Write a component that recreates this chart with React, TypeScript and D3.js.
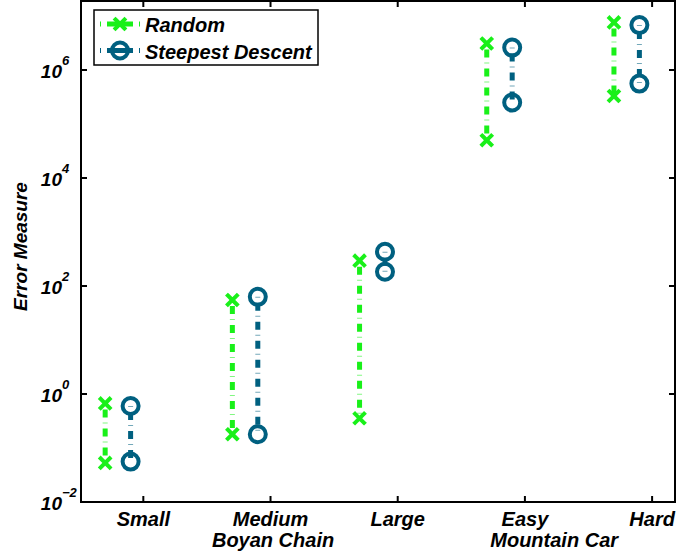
import React from 'react';
import * as d3 from 'd3';

// categories along the x axis
const categories = ['Small', 'Medium', 'Large', 'Easy', 'Hard'];
const groupNames = ['Boyan Chain', 'Mountain Car'];
const groupCenters = [2.02, 4.23];

// error ranges (high / low) for each method
const randomHigh = [0.67, 55, 295, 3.1e6, 7.6e6];
const randomLow = [0.053, 0.18, 0.355, 5.0e4, 3.3e5];
const steepHigh = [0.6, 63, 430, 2.6e6, 6.8e6];
const steepLow = [0.056, 0.18, 184, 2.5e5, 5.6e5];

const yTickExps = [-2, 0, 2, 4, 6];
const seriesNames = ['Random', 'Steepest Descent'];

const W = 678, H = 554;
const left = 81, right = 675, top = 1, bottom = 502;
const green = '#19f019';
const blue = '#006080';
const font = '"Liberation Sans", Arial, sans-serif';

const xScale = d3.scaleLinear().domain([0.51, 5.18]).range([left, right]);
const yScale = d3.scaleLog().domain([1e-2, Math.pow(10, 7.278)]).range([bottom, top]);

const Segment = ({ x, y1, y2, color }: { x: number; y1: number; y2: number; color: string }) => {
  const p = d3.line()([[x, y1], [x, y2]]) as string;
  return (
    <g>
      <path d={p} stroke={color} strokeWidth={5} strokeDasharray="0 6 8 5" fill="none" />
      <path d={p} stroke={color} strokeOpacity={0.55} strokeWidth={5} strokeDasharray="1 18" fill="none" />
    </g>
  );
};

const Cross = ({ x, y, color }: { x: number; y: number; color: string }) => (
  <path d={`M${x - 4.5},${y - 4.5}L${x + 4.5},${y + 4.5}M${x - 4.5},${y + 4.5}L${x + 4.5},${y - 4.5}`}
    stroke={color} strokeWidth={4} strokeLinecap="square" fill="none" />
);

const Ring = ({ x, y, color }: { x: number; y: number; color: string }) => (
  <circle cx={x} cy={y} r={8} stroke={color} strokeWidth={4} fill="none" />
);

export default function App() {
  const offsets = [-0.3, -0.1];
  const series = [
    { hi: randomHigh, lo: randomLow, color: green, marker: 'x' },
    { hi: steepHigh, lo: steepLow, color: blue, marker: 'o' },
  ];
  const tickLen = 6;

  return (
    <svg width={W} height={H} style={{ position: 'absolute', left: 0, top: 0, background: '#fff' }}
      fontFamily={font}>
      <rect width={W} height={H} fill="#fff" />

      {/* data */}
      {series.map((s, si) => categories.map((c, i) => {
        const x = xScale(i + 1 + offsets[si]);
        const y1 = yScale(s.hi[i]);
        const y2 = yScale(s.lo[i]);
        return (
          <g key={`${si}-${c}`}>
            <Segment x={x} y1={y1} y2={y2} color={s.color} />
            {s.marker === 'x'
              ? [<Cross key="a" x={x} y={y1} color={s.color} />, <Cross key="b" x={x} y={y2} color={s.color} />]
              : [<Ring key="a" x={x} y={y1} color={s.color} />, <Ring key="b" x={x} y={y2} color={s.color} />]}
          </g>
        );
      }))}

      {/* frame */}
      <rect x={left} y={top} width={right - left} height={bottom - top} fill="none" stroke="#000" strokeWidth={2} />

      {/* x ticks */}
      {categories.map((c, i) => {
        const x = xScale(i + 1);
        return (
          <g key={c}>
            <line x1={x} x2={x} y1={bottom} y2={bottom - tickLen} stroke="#000" strokeWidth={2} />
            <line x1={x} x2={x} y1={top} y2={top + tickLen} stroke="#000" strokeWidth={2} />
            <text x={x} y={526} textAnchor="middle" fontSize={20} fontWeight="bold" fontStyle="italic">{c}</text>
          </g>
        );
      })}
      {groupNames.map((g, i) => (
        <text key={g} x={xScale(groupCenters[i])} y={547} textAnchor="middle" fontSize={20}
          fontWeight="bold" fontStyle="italic">{g}</text>
      ))}

      {/* y ticks */}
      {yTickExps.map((e) => {
        const y = yScale(Math.pow(10, e));
        return (
          <g key={e}>
            <line x1={left} x2={left + tickLen} y1={y} y2={y} stroke="#000" strokeWidth={2} />
            <line x1={right} x2={right - tickLen} y1={y} y2={y} stroke="#000" strokeWidth={2} />
            <text x={62} y={y + 8} textAnchor="end" fontSize={19} fontWeight="bold" fontStyle="italic">10</text>
            <text x={62} y={y - 5} textAnchor="start" fontSize={13} fontWeight="bold" fontStyle="italic">
              {e < 0 ? `\u2212${-e}` : `${e}`}
            </text>
          </g>
        );
      })}

      <text transform={`translate(27,${(top + bottom) / 2 - 5}) rotate(-90)`} textAnchor="middle"
        fontSize={19} fontWeight="bold" fontStyle="italic">Error Measure</text>

      {/* legend */}
      <g>
        <rect x={94} y={10} width={224} height={55} fill="#fff" stroke="#000" strokeWidth={1.5} />
        {series.map((s, si) => {
          const y = 24 + si * 26.5;
          return (
            <g key={si}>
              <path d={`M100,${y}H140`} stroke={s.color} strokeWidth={5} strokeDasharray="1 6 26 6" fill="none" />
              {s.marker === 'x' ? <Cross x={120} y={y} color={s.color} /> : <Ring x={120} y={y} color={s.color} />}
              <text x={145} y={y + 8} fontSize={20} fontWeight="bold" fontStyle="italic">{seriesNames[si]}</text>
            </g>
          );
        })}
      </g>
    </svg>
  );
}
